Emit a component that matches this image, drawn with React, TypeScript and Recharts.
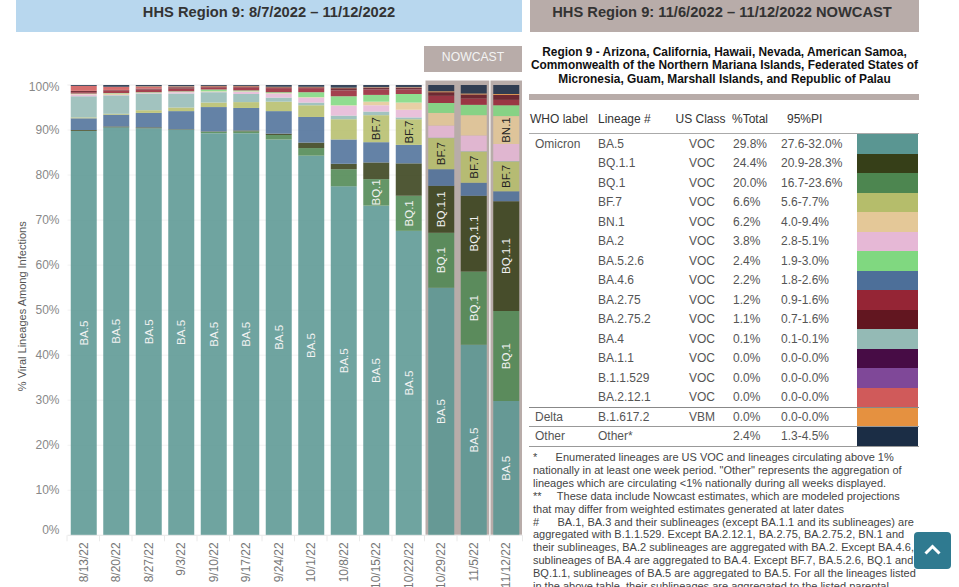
import { BarChart, Bar, XAxis, YAxis, CartesianGrid, LabelList, ReferenceArea } from 'recharts';

const weeks = ['8/13/22', '8/20/22', '8/27/22', '9/3/22', '9/10/22', '9/17/22', '9/24/22', '10/1/22', '10/8/22', '10/15/22', '10/22/22', '10/29/22', '11/5/22', '11/12/22'];
const yTicks = [0, 10, 20, 30, 40, 50, 60, 70, 80, 90, 100];

const ba5 = [89.8, 90.6, 90.4, 90.1, 89.3, 89.3, 87.9, 84.3, 77.5, 73.2, 67.6, 55, 42.3, 29.8];
const bq1 = [0, 0, 0, 0, 0.3, 0.4, 1, 1.7, 3.8, 5.9, 7.8, 12.2, 16.3, 20];
const bq11 = [0.2, 0.2, 0.2, 0.1, 0.1, 0.2, 0.3, 1.2, 1.2, 3.7, 7.2, 10.4, 16.8, 24.4];
const ba46 = [2.6, 2.6, 3.2, 4, 5.4, 5, 5, 5.7, 5.4, 4.5, 4.1, 3.7, 2.9, 2.2];
const bf7 = [0.2, 0.2, 0.6, 0.8, 1, 1.3, 2.1, 2.6, 4.5, 6, 5.7, 6.9, 6.9, 6.6];
const ba4 = [4.7, 4.1, 3.7, 3.1, 2.3, 1.8, 0.9, 0.6, 0.8, 0.8, 0.4, 0.1, 0.1, 0.1];
const ba2 = [0.4, 0.1, 0.1, 0.3, 0.1, 0.5, 0.9, 1.1, 2.2, 1.4, 1.7, 2.7, 3.5, 3.8];
const bn1 = [0.1, 0.3, 0.1, 0.1, 0.1, 0.1, 0.1, 0.1, 0.1, 0.8, 1.6, 2.8, 4.5, 6.2];
const ba526 = [0.1, 0.1, 0.1, 0.1, 0.4, 0.2, 0.2, 1.1, 2, 1.5, 1.9, 2.2, 2.3, 2.4];
const ba275 = [0.3, 0.6, 0.6, 0.6, 0.5, 0.7, 0.9, 0.9, 1.3, 1.2, 1, 1.6, 1.4, 1.2];
const ba2752 = [0.3, 0.1, 0.2, 0.3, 0.2, 0.2, 0.2, 0.2, 0.5, 0.4, 0.4, 0.8, 0.9, 1.1];
const ba212 = [1.1, 0.7, 0.4, 0.1, 0, 0, 0, 0, 0, 0, 0, 0, 0, 0];
const delta = [0, 0, 0.1, 0.1, 0.1, 0.1, 0.1, 0.1, 0.1, 0.1, 0.1, 0.2, 0.2, 0.2];
const other = [0.2, 0.4, 0.3, 0.3, 0.2, 0.2, 0.4, 0.4, 0.6, 0.5, 0.5, 1.4, 1.9, 2];

const series = [
  { name: 'BA.5', values: ba5 },
  { name: 'BQ.1', values: bq1 },
  { name: 'BQ.1.1', values: bq11 },
  { name: 'BA.4.6', values: ba46 },
  { name: 'BF.7', values: bf7 },
  { name: 'BA.4', values: ba4 },
  { name: 'BA.2', values: ba2 },
  { name: 'BN.1', values: bn1 },
  { name: 'BA.5.2.6', values: ba526 },
  { name: 'BA.2.75', values: ba275 },
  { name: 'BA.2.75.2', values: ba2752 },
  { name: 'BA.2.12.1', values: ba212 },
  { name: 'B.1.617.2', values: delta },
  { name: 'Other', values: other },
];

const COLORS: Record<string, string> = {
  'BA.5': '#5a9692',
  'BQ.1': '#4d8650',
  'BQ.1.1': '#363f18',
  'BA.4.6': '#4d6f99',
  'BF.7': '#b5bd6b',
  'BA.4': '#94bab5',
  'BA.2': '#e6b8d6',
  'BN.1': '#e4c898',
  'BA.5.2.6': '#80d880',
  'BA.2.75': '#952535',
  'BA.2.75.2': '#621620',
  'BA.2.12.1': '#d05a5a',
  'B.1.617.2': '#e59140',
  Other: '#1b2d45',
};

const LABEL_COLORS: Record<string, string> = {
  'BA.5': '#f2f2f2',
  'BQ.1': '#f2f2f2',
  'BQ.1.1': '#f2f2f2',
  'BF.7': '#222',
  'BN.1': '#222',
};

const rows = weeks.map((week, i) => {
  const row: Record<string, string | number> = { week };
  series.forEach((s) => {
    row[s.name] = s.values[i];
  });
  return row;
});

// table on the right
const tableLineages = ['BA.5', 'BQ.1.1', 'BQ.1', 'BF.7', 'BN.1', 'BA.2', 'BA.5.2.6', 'BA.4.6', 'BA.2.75', 'BA.2.75.2', 'BA.4', 'BA.1.1', 'B.1.1.529', 'BA.2.12.1', 'B.1.617.2', 'Other*'];
const tableWho = ['Omicron', '', '', '', '', '', '', '', '', '', '', '', '', '', 'Delta', 'Other'];
const tableClass = ['VOC', 'VOC', 'VOC', 'VOC', 'VOC', 'VOC', 'VOC', 'VOC', 'VOC', 'VOC', 'VOC', 'VOC', 'VOC', 'VOC', 'VBM', ''];
const tableTotal = ['29.8%', '24.4%', '20.0%', '6.6%', '6.2%', '3.8%', '2.4%', '2.2%', '1.2%', '1.1%', '0.1%', '0.0%', '0.0%', '0.0%', '0.0%', '2.4%'];
const tablePI = ['27.6-32.0%', '20.9-28.3%', '16.7-23.6%', '5.6-7.7%', '4.0-9.4%', '2.8-5.1%', '1.9-3.0%', '1.8-2.6%', '0.9-1.6%', '0.7-1.6%', '0.1-0.1%', '0.0-0.0%', '0.0-0.0%', '0.0-0.0%', '0.0-0.0%', '1.3-4.5%'];
const tableSwatch = ['#5a9692', '#363f18', '#4d8650', '#b5bd6b', '#e4c898', '#e6b8d6', '#80d880', '#4d6f99', '#952535', '#621620', '#94bab5', '#470c45', '#7f4898', '#d05a5a', '#e59140', '#1b2d45'];

const footnotes = [
  '*\u00a0\u00a0\u00a0\u00a0\u00a0\u00a0Enumerated lineages are US VOC and lineages circulating above 1%',
  'nationally in at least one week period. "Other" represents the aggregation of',
  'lineages which are circulating <1% nationally during all weeks displayed.',
  '**\u00a0\u00a0\u00a0\u00a0\u00a0These data include Nowcast estimates, which are modeled projections',
  'that may differ from weighted estimates generated at later dates',
  '#\u00a0\u00a0\u00a0\u00a0\u00a0\u00a0BA.1, BA.3 and their sublineages (except BA.1.1 and its sublineages) are',
  'aggregated with B.1.1.529. Except BA.2.12.1, BA.2.75, BA.2.75.2, BN.1 and',
  'their sublineages, BA.2 sublineages are aggregated with BA.2. Except BA.4.6,',
  'sublineages of BA.4 are aggregated to BA.4. Except BF.7, BA.5.2.6, BQ.1 and',
  'BQ.1.1, sublineages of BA.5 are aggregated to BA.5. For all the lineages listed',
  'in the above table, their sublineages are aggregated to the listed parental',
];

const FONT = '"Liberation Sans", Arial, sans-serif';

function WeekTick({ x, y, payload, index }: any) {
  const band = 32.5;
  return (
    <g>
      <line x1={x - band / 2 - 0.5} x2={x - band / 2 - 0.5} y1={y - 8} y2={y - 2} stroke="#eaeaea" />
      {index === weeks.length - 1 && <line x1={x + band / 2} x2={x + band / 2} y1={y - 8} y2={y - 2} stroke="#eaeaea" />}
      <text transform={`translate(${x + 4},${y - 1}) rotate(-90)`} textAnchor="end" fontSize={12} fontFamily={FONT} fill="#777">
        {payload.value}
      </text>
    </g>
  );
}

function PercentTick({ x, y, payload }: any) {
  // the end labels are pulled inside the plot in the original
  const shift = payload.value === 0 ? -5 : payload.value === 100 ? 1.5 : 0;
  return (
    <text x={x} y={y + shift} dy={4} textAnchor="end" fontSize={12} fontFamily={FONT} fill="#888">
      {`${payload.value}%`}
    </text>
  );
}

function SegmentLabel({ x, y, width, height, name }: any) {
  // only the big lineages get a name, and only when it fits
  if (!LABEL_COLORS[name] || height < name.length * 5.6) return null;
  const cx = x + width / 2;
  const cy = y + height / 2;
  return (
    <text transform={`translate(${cx},${cy}) rotate(-90)`} textAnchor="middle" dominantBaseline="central" fontSize={11.5} fontFamily={FONT} fill={LABEL_COLORS[name]}>
      {name}
    </text>
  );
}

function Header({ left, width, background, text }: any) {
  return (
    <div style={{ position: 'absolute', left, top: 0, width, height: 32, background, textAlign: 'center', lineHeight: '25px', fontFamily: FONT, fontWeight: 'bold', fontSize: 14.7, color: '#333', whiteSpace: 'nowrap' }}>
      {text}
    </div>
  );
}

function Cell({ left, y, children, color = '#555' }: any) {
  return (
    <div style={{ position: 'absolute', left, top: y - 8, height: 16, lineHeight: '16px', fontFamily: FONT, fontSize: 12, color, whiteSpace: 'nowrap' }}>
      {children}
    </div>
  );
}

function Rule({ top, height = 1, color = '#aaa' }: any) {
  return <div style={{ position: 'absolute', left: 529, width: 390, top, height, background: color }} />;
}

export default function App() {
  return (
    <div style={{ position: 'fixed', left: 0, top: 0, width: 959, height: 587, overflow: 'hidden', background: '#fff' }}>
      <Header left={16} width={506} background="#b8d7ee" text="HHS Region 9: 8/7/2022 – 11/12/2022" />
      <Header left={530} width={384} background="#b8aca9" text="HHS Region 9: 11/6/2022 – 11/12/2022 NOWCAST" />
      <div style={{ position: 'absolute', left: 914, top: 0, width: 5, height: 32, background: '#b8aca9' }} />

      <div style={{ position: 'absolute', left: 424, top: 46, width: 98, height: 26, background: '#b8aca9', color: '#f4f4f4', fontFamily: FONT, fontSize: 12.2, textAlign: 'center', lineHeight: '22px' }}>
        NOWCAST
      </div>

      <div style={{ position: 'absolute', left: 0, top: 0 }}>
        <BarChart width={530} height={587} data={rows} margin={{ top: 85, right: 7.5, bottom: 0, left: 7.5 }} barCategoryGap="10%">
          <ReferenceArea x1="10/29/22" x2="11/5/22" y1={0} y2={101.1} ifOverflow="visible" fill="#b8aca9" fillOpacity={1} stroke="#fff" />
          <ReferenceArea x1="11/12/22" x2="11/12/22" y1={0} y2={101.1} ifOverflow="visible" fill="#b8aca9" fillOpacity={1} stroke="#fff" />
          <CartesianGrid vertical={false} stroke="#f2f2f2" />
          <XAxis dataKey="week" interval={0} height={51.7} stroke="#eaeaea" tickLine={false} tick={<WeekTick />} />
          <YAxis
            width={60}
            domain={[0, 100]}
            ticks={yTicks}
            axisLine={false}
            tickLine={false}
            tick={<PercentTick />}
            label={{ value: '% Viral Lineages Among Infections', angle: -90, position: 'insideLeft', offset: 15, dy: 81, style: { fontSize: 11, fontFamily: FONT, fill: '#555' } }}
          />
          {series.map((s) => (
            <Bar key={s.name} dataKey={s.name} stackId="a" fill={COLORS[s.name]} fillOpacity={0.87} isAnimationActive={false}>
              <LabelList dataKey={s.name} content={(props: any) => <SegmentLabel {...props} name={s.name} />} />
            </Bar>
          ))}
        </BarChart>
      </div>

      <div style={{ position: 'absolute', left: 530, top: 45.5, width: 389, textAlign: 'center', fontFamily: FONT, fontWeight: 'bold', fontSize: 11.9, lineHeight: '13.8px', color: '#111', whiteSpace: 'nowrap' }}>
        Region 9 - Arizona, California, Hawaii, Nevada, American Samoa,
        <br />
        Commonwealth of the Northern Mariana Islands, Federated States of
        <br />
        Micronesia, Guam, Marshall Islands, and Republic of Palau
      </div>
      <div style={{ position: 'absolute', left: 529, width: 390, top: 94, height: 6, background: '#b8aca9' }} />

      <Cell left={530} y={119} color="#333">WHO label</Cell>
      <Cell left={598} y={119} color="#333">Lineage #</Cell>
      <Cell left={675.5} y={119} color="#333">US Class</Cell>
      <Cell left={732} y={119} color="#333">%Total</Cell>
      <Cell left={787} y={119} color="#333">95%PI</Cell>
      <Rule top={133} />

      {tableLineages.map((lineage, i) => {
        const y = 143.5 + i * 19.5;
        return (
          <div key={lineage}>
            <Cell left={535} y={y}>{tableWho[i]}</Cell>
            <Cell left={598} y={y}>{lineage}</Cell>
            <Cell left={689} y={y}>{tableClass[i]}</Cell>
            <Cell left={733} y={y}>{tableTotal[i]}</Cell>
            <Cell left={781} y={y}>{tablePI[i]}</Cell>
            <div style={{ position: 'absolute', left: 856.5, width: 61, top: 134 + i * 19.5, height: 19.5, background: tableSwatch[i] }} />
          </div>
        );
      })}
      <Rule top={406.5} color="#888" />
      <Rule top={426} color="#999" />
      <Rule top={445.5} color="#999" />

      <div style={{ position: 'absolute', left: 533, top: 451, width: 400, fontFamily: FONT, fontSize: 11, lineHeight: '12.9px', color: '#444', whiteSpace: 'nowrap' }}>
        {footnotes.map((line) => (
          <div key={line}>{line}</div>
        ))}
      </div>

      <div style={{ position: 'absolute', left: 914, top: 532, width: 37, height: 37, background: '#2f7a90', borderRadius: 4 }}>
        <svg width={37} height={37}>
          <path d="M11.5 21.5 L18.5 14.5 L25.5 21.5" fill="none" stroke="#fff" strokeWidth={3} />
        </svg>
      </div>
    </div>
  );
}
